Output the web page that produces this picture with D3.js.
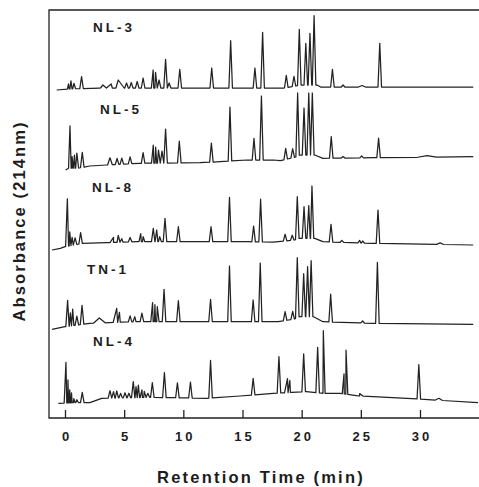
<!DOCTYPE html>
<html>
<head>
<meta charset="utf-8">
<script src="https://cdn.jsdelivr.net/npm/d3@7"></script>
<style>
  body { margin: 0; background: #fff; }
  text { font-family: "Liberation Sans", Arial, sans-serif; font-weight: bold; fill: #1c1c1c; }
</style>
</head>
<body>
<div id="chart"></div>
<script>
// trace names, top to bottom
var traceNames = ["NL-3", "NL-5", "NL-8", "TN-1", "NL-4"]
var xTicks = [0, 5, 10, 15, 20, 25, 30]

// baselines: [time (min), level]   peaks: [time (min), height, half width (min)]
var nl3Base = [[-0.7, 328], [0.2, 329], [3, 330], [18.5, 330], [19.5, 332], [20, 333], [21.3, 333], [21.6, 331], [26, 331], [34.5, 331]]
var nl3Peaks = [[0.3, 5, 0.12], [0.5, 8], [0.75, 5.5], [1.4, 12], [3.2, 3, 0.3], [3.9, 4, 0.4], [4.5, 8, 0.5], [5.2, 5], [5.6, 5.5], [6.1, 6.5],
  [6.6, 10], [7.45, 18], [7.65, 15.7], [7.95, 8], [8.5, 28.7], [8.8, 5], [9.7, 18.7], [12.4, 20], [14.0, 47.3], [16.05, 20], [16.7, 55.7],
  [18.7, 12.3], [19.35, 10], [19.8, 56], [20.35, 41.7], [20.7, 51.7], [21.05, 69.3], [22.6, 17.7], [23.5, 2], [25.1, 1.5, 0.3], [26.6, 43.7]]

var nl5Base = [[0.05, 248], [0.3, 249.7], [1.2, 250], [2.1, 252], [3.5, 253], [6.3, 254.7], [11.4, 255.3], [13.1, 256.3], [15.4, 258], [17.6, 258],
  [18.2, 257.3], [19.5, 261], [19.8, 263], [21.1, 263], [21.8, 259.7], [26, 260.3], [34.5, 261.3]]
var nl5Peaks = [[0.42, 42.3], [0.6, 11.6, 0.08], [0.8, 13, 0.1], [1.0, 15], [1.46, 15], [3.8, 7, 0.2], [4.4, 6], [4.8, 6], [5.5, 7], [6.6, 10.6],
  [7.46, 18], [7.66, 16], [7.9, 13], [8.2, 12], [8.5, 34], [9.66, 21.7], [12.37, 19], [13.94, 54], [15.97, 21.7], [16.6, 64], [18.65, 11],
  [19.24, 9], [19.66, 63], [20.2, 47], [20.6, 62], [20.9, 62], [22.5, 21.6], [23.5, 1.5], [25.07, 2], [26.5, 19.4], [30.6, 1.5, 0.8]]

var nl8Base = [[-1.1, 168], [-0.4, 169.7], [0, 171.3], [1.5, 174.7], [3.5, 175.3], [6, 176.3], [15.5, 176.3], [17.6, 175.8], [19.4, 178],
  [19.8, 179.7], [21.1, 179.7], [21.8, 176.3], [26, 174.7], [34.5, 173]]
var nl8Peaks = [[0.2, 47.4], [0.4, 14, 0.1], [0.6, 8, 0.1], [0.85, 7], [1.32, 11], [4.1, 5, 0.3], [4.5, 7, 0.4], [4.8, 3.5], [5.5, 4.5], [6.4, 8],
  [6.6, 5], [7.46, 13.4], [7.75, 11.7], [8.0, 5], [8.45, 23.4], [9.58, 15], [12.34, 15], [13.9, 44.4], [15.94, 15.7], [16.53, 42.7], [18.6, 6.7],
  [19.2, 5], [19.63, 42.3], [20.2, 31.6], [20.6, 32.6], [20.87, 52.3], [22.48, 17.7], [23.4, 2], [24.9, 2.5], [25.15, 2], [26.45, 33.3], [31.7, 1.5, 0.3]]

var tn1Base = [[-1.1, 88.7], [0, 91.3], [2.1, 94.7], [6, 96.3], [18, 96.3], [19.4, 99], [19.8, 101.3], [21, 101.3], [21.8, 96.3], [26, 94.7], [34.5, 93.7]]
var tn1Peaks = [[0.22, 26], [0.45, 13, 0.1], [0.65, 16.5, 0.1], [1.0, 9], [1.44, 19], [2.9, 5, 0.5], [4.37, 14, 0.3], [4.6, 10], [5.5, 6], [5.9, 5],
  [6.5, 8.5], [7.4, 19], [7.6, 17], [7.8, 15], [8.37, 32.4], [9.58, 21], [12.3, 22.4], [13.9, 55.7], [15.9, 21.7], [16.5, 58.7], [18.6, 9],
  [19.24, 8], [19.63, 60], [20.17, 43], [20.5, 50], [20.8, 56], [22.45, 27.7], [25.15, 2], [26.4, 61]]

var nl4Base = [[-0.56, 14.7], [0.7, 15.3], [2.1, 15.3], [3.1, 19.7], [7.2, 20.7], [12, 19.7], [14.8, 22], [17.6, 24.7], [20.4, 26.3], [21.8, 24.7],
  [23.2, 24.7], [24.9, 22], [28.9, 19.7], [34.9, 15.3]]
var nl4Peaks = [[0.08, 40.5], [0.25, 23, 0.1], [0.4, 13, 0.1], [0.55, 10, 0.1], [0.75, 4], [1.0, 3], [1.46, 10.4], [3.8, 7.6], [4.1, 6.5], [4.37, 7],
  [4.7, 4.5], [5.07, 5], [5.4, 4.5], [5.77, 16], [6.0, 11, 0.1], [6.2, 12.5, 0.1], [6.5, 7.5], [6.7, 6], [7.0, 4], [7.38, 14.6], [8.4, 25],
  [9.5, 15], [10.6, 16], [12.3, 37.6], [15.9, 16.5], [18.08, 36.5], [18.8, 14, 0.25], [19.0, 12], [20.17, 38], [21.35, 45.5], [21.83, 62.6],
  [23.58, 20], [23.75, 44], [24.9, 2.5, 0.3], [29.9, 34.5], [31.6, 2, 0.3]]

var traces = [[nl3Base, nl3Peaks], [nl5Base, nl5Peaks], [nl8Base, nl8Peaks], [tn1Base, tn1Peaks], [nl4Base, nl4Peaks]]

// label placement (left x, text baseline y) in pixels
var labelPos = [[93, 32], [100, 114], [92, 192], [87, 274], [93, 346]]

var width = 479, height = 487
var frameLeft = 49, frameTop = 10, frameBottom = 418

var svg = d3.select("#chart").append("svg")
    .attr("width", width)
    .attr("height", height)

var x = d3.scaleLinear().domain([0, 30]).range([65, 420])
var y = d3.scaleLinear().domain([0, 410]).range([frameBottom, 8])

function tracePoints(base, peaks) {
    var bs = d3.scaleLinear().domain(base.map(d => d[0])).range(base.map(d => d[1]))
    var pts = base.slice()
    peaks.forEach(function (p) {
        var w = p[2] || 0.15
        pts.push([p[0] - w, bs(p[0] - w)])
        pts.push([p[0], bs(p[0]) + p[1]])
        pts.push([p[0] + w, bs(p[0] + w)])
    })
    pts.sort((a, b) => a[0] - b[0])
    return pts
}

var line = d3.line()
    .x(d => x(d[0]))
    .y(d => y(d[1]))

svg.append("g")
    .selectAll("path")
    .data(traces)
    .enter()
    .append("path")
    .attr("d", d => line(tracePoints(d[0], d[1])))
    .attr("fill", "none")
    .attr("stroke", "#222")
    .attr("stroke-width", 1.25)
    .attr("stroke-linejoin", "round")

// frame (open on the right, runs off the picture)
svg.append("path")
    .attr("d", "M" + (width + 5) + "," + frameTop + "H" + frameLeft + "V" + frameBottom + "H" + (width + 5))
    .attr("fill", "none")
    .attr("stroke", "#222")
    .attr("stroke-width", 1.3)

// x axis, ticks pointing up into the plot
var xAxis = svg.append("g")
    .attr("transform", "translate(0," + frameBottom + ")")
    .call(d3.axisBottom(x).tickValues(xTicks).tickSizeInner(-8).tickSizeOuter(0).tickPadding(14))
xAxis.select(".domain").remove()
xAxis.selectAll(".tick line").attr("stroke", "#222").attr("stroke-width", 1.3)
xAxis.selectAll(".tick text")
    .attr("font-size", 13)
    .attr("font-family", "'Liberation Sans', Arial, sans-serif")
    .attr("font-weight", "bold")
    .attr("fill", "#1c1c1c")
    .attr("letter-spacing", 3)
    .attr("dx", 1.5)

svg.selectAll(".trace-label")
    .data(traceNames)
    .enter()
    .append("text")
    .attr("class", "trace-label")
    .attr("x", (d, i) => labelPos[i][0])
    .attr("y", (d, i) => labelPos[i][1])
    .attr("font-size", 13.5)
    .attr("letter-spacing", 3)
    .text(d => d)

svg.append("text")
    .attr("text-anchor", "middle")
    .attr("x", 261)
    .attr("y", 483)
    .attr("font-size", 16.5)
    .attr("letter-spacing", 2.2)
    .text("Retention Time (min)")

svg.append("text")
    .attr("text-anchor", "middle")
    .attr("transform", "translate(25,221) rotate(-90)")
    .attr("font-size", 16.5)
    .attr("letter-spacing", 2.1)
    .text("Absorbance (214nm)")
</script>
</body>
</html>
